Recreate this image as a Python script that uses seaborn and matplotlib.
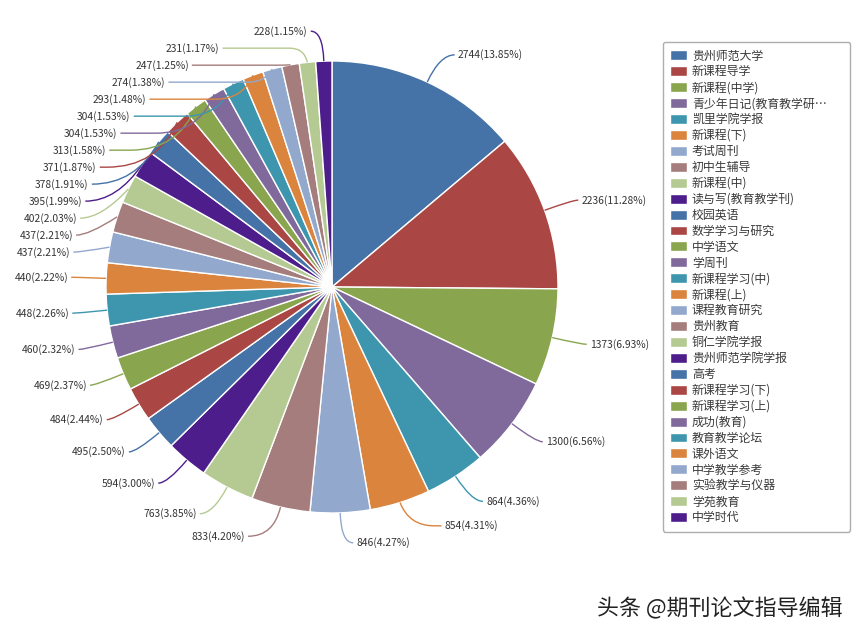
import numpy as np
import matplotlib
matplotlib.use('Agg')
import matplotlib.pyplot as plt
from matplotlib.path import Path
from matplotlib.patches import PathPatch
import seaborn as sns

# journal names (legend order = slice order, clockwise from 12 o'clock)
names = ['贵州师范大学', '新课程导学', '新课程(中学)', '青少年日记(教育教学研…', '凯里学院学报',
         '新课程(下)', '考试周刊', '初中生辅导', '新课程(中)', '读与写(教育教学刊)',
         '校园英语', '数学学习与研究', '中学语文', '学周刊', '新课程学习(中)',
         '新课程(上)', '课程教育研究', '贵州教育', '铜仁学院学报', '贵州师范学院学报',
         '高考', '新课程学习(下)', '新课程学习(上)', '成功(教育)', '教育教学论坛',
         '课外语文', '中学教学参考', '实验教学与仪器', '学苑教育', '中学时代']
values = [2744, 2236, 1373, 1300, 864, 854, 846, 833, 763, 594,
          495, 484, 469, 460, 448, 440, 437, 437, 402, 395,
          378, 371, 313, 304, 304, 293, 274, 247, 231, 228]
base_colors = ['#4572A7', '#AA4643', '#89A54E', '#80699B', '#3D96AE',
               '#DB843D', '#92A8CD', '#A47D7C', '#B5CA92', '#4E1D8C']

sns.set_theme(style='white')
plt.rcParams['font.family'] = ['Noto Sans CJK SC', 'DejaVu Sans']

W, H = 859, 639
cx, cy, r = 332, 287, 226   # pie centre / radius in pixels (y down)
len1, len2, text_h = 30, 10, 17
R2 = 264

colors = sns.color_palette(base_colors, n_colors=len(values))
total = sum(values)
labels = ['%d(%.2f%%)' % (v, v / total * 100) for v in values]

fig = plt.figure(figsize=(W / 100, H / 100), dpi=100)
ax = fig.add_axes([0, 0, 1, 1])
# y axis is inverted below, so counterclock + start at -90 runs clockwise from the top
wedges, _ = ax.pie(values, colors=colors, startangle=-90, counterclock=True,
                   center=(cx, cy), radius=r,
                   wedgeprops=dict(edgecolor='white', linewidth=1))
ax.set_xlim(0, W)
ax.set_ylim(H, 0)
ax.set_aspect('equal')
ax.axis('off')

# label layout (echarts-like)
frac = np.array(values) / total
mid = (np.cumsum(frac) - frac / 2) * 2 * np.pi
ux, uy = np.sin(mid), -np.cos(mid)
side = np.where(ux < 0, -1, 1)
ex, ey = cx + r * ux, cy + r * uy
bx = cx + (r + len1) * ux
ly = cy + (r + len1) * uy
lx = bx + side * (len2 + 5)

for s in (-1, 1):
    idx = [i for i in range(len(values)) if side[i] == s]
    up = sorted([i for i in idx if ly[i] < cy], key=lambda i: ly[i])
    down = sorted([i for i in idx if ly[i] >= cy], key=lambda i: -ly[i])
    for k in range(1, len(up)):
        if ly[up[k]] < ly[up[k - 1]] + text_h:
            ly[up[k]] = ly[up[k - 1]] + text_h
    for k in range(1, len(down)):
        if ly[down[k]] > ly[down[k - 1]] - text_h:
            ly[down[k]] = ly[down[k - 1]] - text_h
    for i in idx:
        dy = abs(ly[i] - cy)
        if dy < r + len1 - 1:
            lx[i] = cx + s * np.sqrt(R2 ** 2 - dy ** 2)

for i in range(len(values)):
    s = side[i]
    p0 = (ex[i], ey[i])
    p1 = (bx[i], ly[i])
    p2 = (lx[i] - s * 3, ly[i])
    d = min(np.hypot(p0[0] - p1[0], p0[1] - p1[1]), abs(p2[0] - p1[0]))
    q = (p1[0] + np.sign(p2[0] - p1[0]) * d, p1[1])
    path = Path([p0, p1, q, p2], [Path.MOVETO, Path.CURVE3, Path.CURVE3, Path.LINETO])
    ax.add_patch(PathPatch(path, facecolor='none', edgecolor=colors[i], linewidth=1))
    ax.text(lx[i], ly[i], labels[i], ha='left' if s > 0 else 'right', va='center',
            fontsize=7.4, color='#333333')

leg = fig.legend(wedges, names, loc='upper left', mode='expand',
                 bbox_to_anchor=(663 / W, (H - 531) / H, 187 / W, 489 / H),
                 fontsize=8.6, frameon=True, fancybox=True, handlelength=1.35,
                 handleheight=0.9, handletextpad=0.45, labelspacing=0.245,
                 borderpad=0.62, borderaxespad=0, labelcolor='#3a3a3a')
leg.get_frame().set_edgecolor('#999999')
leg.get_frame().set_linewidth(1)

fig.text(597 / W, 1 - 609 / H, '头条 @期刊论文指导编辑', fontsize=15.8,
         color='#222222', ha='left', va='center')

plt.savefig('out.png', dpi=100)
